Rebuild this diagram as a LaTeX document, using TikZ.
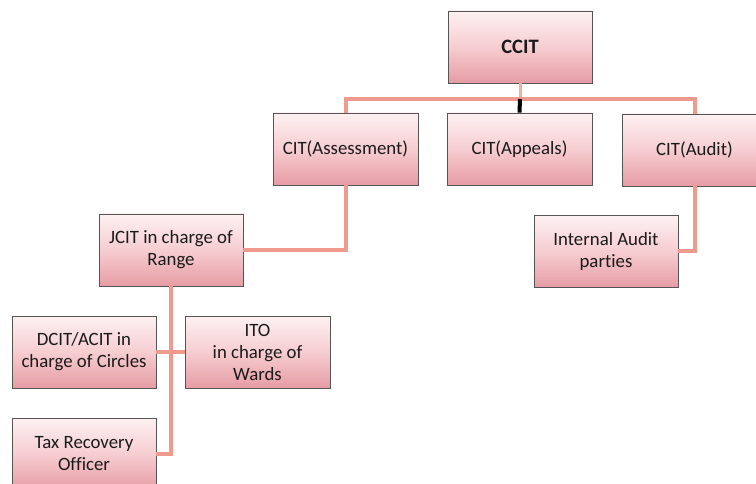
\documentclass[tikz,border=0pt]{standalone}
\usepackage{fontspec}
\setmainfont{Carlito}[Ligatures=NoCommon]
\definecolor{boxtop}{HTML}{FDF1F2}
\definecolor{boxmid}{HTML}{F6CDD1}
\definecolor{boxbot}{HTML}{E69CA4}
\definecolor{connc}{HTML}{EE9A8C}
\definecolor{txtc}{HTML}{1A1A1A}
\definecolor{bord}{HTML}{555555}
\tikzset{
  orgbox/.style={rectangle, draw=bord, line width=0.8pt, top color=boxtop, bottom color=boxbot, middle color=boxmid,
    minimum width=144pt, minimum height=72pt, inner sep=2pt, align=center, text=txtc,
    font=\fontsize{18.8}{22}\selectfont},
  conn/.style={draw=connc, line width=4pt},
}
\begin{document}
\begin{tikzpicture}[x=1pt,y=-1pt]
\useasboundingbox (0,0) rectangle (756,484);
\clip (0,0) rectangle (756,484);
\node[orgbox, font=\fontsize{20.5}{24}\selectfont\bfseries] (ccit) at (520,47) {CCIT};
\node[orgbox, minimum width=145pt] (assess) at (345.5,149) {CIT(Assessment)};
\node[orgbox, minimum width=145pt] (appeals) at (519.5,149) {CIT(Appeals)};
\node[orgbox, minimum width=145pt] (audit) at (694.5,150) {CIT(Audit)};
\node[orgbox] (jcit) at (171,250) {JCIT in charge of\\Range};
\node[orgbox] (ia) at (606,251.5) {Internal Audit\\parties};
\node[orgbox] (dcit) at (84,352) {DCIT/ACIT in\\charge of Circles};
\node[orgbox, minimum width=145pt] (ito) at (257.5,352) {ITO\\in charge of\\Wards};
\node[orgbox] (tro) at (84,454) {Tax Recovery\\Officer};
\coordinate (bus) at (520,99);
\draw[conn, line width=3pt, draw=connc!80!white] (ccit.south) -- (bus);
\draw[conn] (assess.north) |- (bus) -| (audit.north);
\draw[line width=4pt, black] (bus) -- (appeals.north);
\draw[conn] (assess.south) |- (jcit.east);
\draw[conn] (audit.south) |- (ia.east);
\draw[conn] (jcit.south) |- (tro.east);
\draw[conn] (dcit.east) -- (ito.west);
\end{tikzpicture}
\end{document}
